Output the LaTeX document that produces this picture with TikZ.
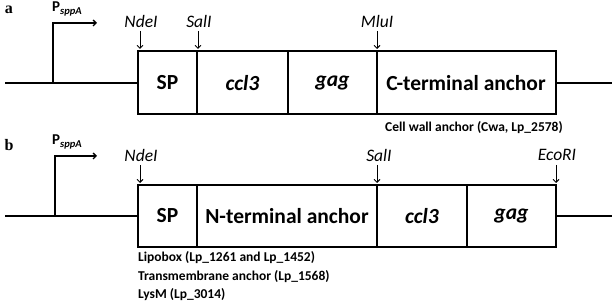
\documentclass[tikz,border=0pt]{standalone}
\usepackage{fontspec}
\setmainfont{Carlito}
\newfontfamily\serifb{Liberation Serif}
\usetikzlibrary{arrows.meta}
\begin{document}
\begin{tikzpicture}[x=1pt,y=-1pt,
  wire/.style={line width=1.8pt},
  seg/.style={draw,line width=1.8pt,inner sep=0pt},
  boxtext/.style={font=\fontsize{21.5}{24}\selectfont\bfseries},
  boxit/.style={font=\fontsize{21.5}{24}\selectfont\bfseries\itshape},
  site/.style={font=\fontsize{17.5}{20}\selectfont\itshape,inner sep=0pt},
  cut/.style={-{Straight Barb[length=3pt,width=6pt]},line width=0.9pt},
  prom/.style={line width=1.3pt,-{Straight Barb[length=3pt,width=6pt]}},
  plab/.style={font=\fontsize{15}{17}\selectfont\bfseries,anchor=west,inner sep=0pt},
  note/.style={font=\fontsize{13.5}{16}\selectfont\bfseries,anchor=west,inner sep=0pt},
  panel/.style={font=\serifb\fontsize{16}{18}\selectfont\bfseries,inner sep=0pt}]
\useasboundingbox (0,0) rectangle (614,302);
% ---------- panel a ----------
\node[panel] (la) at (9,10) {a};
\coordinate (aL) at (5,83);
\coordinate (aP) at (53,83);
\coordinate (aPt) at (53,23);
\coordinate (aPe) at (97,23);
\coordinate (aR) at (612,83);
\draw[wire] (aL) -- (138,83);
\draw[prom] (aP) -- (aPt) -- (aPe);
\node[plab] (apl) at (52,9) {P\textsubscript{\itshape sppA}};
\path[seg] (138,51) rectangle (197,114);
\path[seg] (197,51) rectangle (288,114);
\path[seg] (288,51) rectangle (377,114);
\path[seg] (377,51) rectangle (556,114);
\draw[wire] (556,83) -- (aR);
\node[boxtext] (aSP) at (167.5,83) {SP};
\node[boxit] (accl) at (242.5,83) {ccl3};
\node[boxit] (agag) at (332.5,83) {gag};
\node[boxtext] (acta) at (466,83) {C-terminal anchor};
\node[note] (acwa) at (385,128) {Cell wall anchor (Cwa, Lp\_2578)};
\node[site] (aNde) at (141,21) {NdeI};
\node[site] (aSal) at (199,21) {SalI};
\node[site] (aMlu) at (377,21) {MluI};
\draw[cut] (140,31) -- (140,49);
\draw[cut] (198,31) -- (198,49);
\draw[cut] (377,31) -- (377,49);
% ---------- panel b ----------
\node[panel] (lb) at (9,145) {b};
\coordinate (bL) at (5,216);
\coordinate (bP) at (55,216);
\coordinate (bPt) at (55,156);
\coordinate (bPe) at (97,156);
\coordinate (bR) at (612,216);
\draw[wire] (bL) -- (138,216);
\draw[prom] (bP) -- (bPt) -- (bPe);
\node[plab] (bpl) at (52,142) {P\textsubscript{\itshape sppA}};
\path[seg] (138,185) rectangle (197,247);
\path[seg] (197,185) rectangle (377,247);
\path[seg] (377,185) rectangle (467,247);
\path[seg] (467,185) rectangle (556,247);
\draw[wire] (556,216) -- (bR);
\node[boxtext] (bSP) at (167.5,216) {SP};
\node[boxtext] (bnta) at (287,216) {N-terminal anchor};
\node[boxit] (bccl) at (422,216) {ccl3};
\node[boxit] (bgag) at (511.5,216) {gag};
\node[note] (bn1) at (138,258) {Lipobox (Lp\_1261 and Lp\_1452)};
\node[note] (bn2) at (138,277) {Transmembrane anchor (Lp\_1568)};
\node[note] (bn3) at (138,295) {LysM (Lp\_3014)};
\node[site] (bNde) at (141,155) {NdeI};
\node[site] (bSal) at (379,155) {SalI};
\node[site] (bEco) at (557,155) {EcoRI};
\draw[cut] (140,165) -- (140,183);
\draw[cut] (377,165) -- (377,183);
\draw[cut] (556,165) -- (556,183);
\end{tikzpicture}
\end{document}
